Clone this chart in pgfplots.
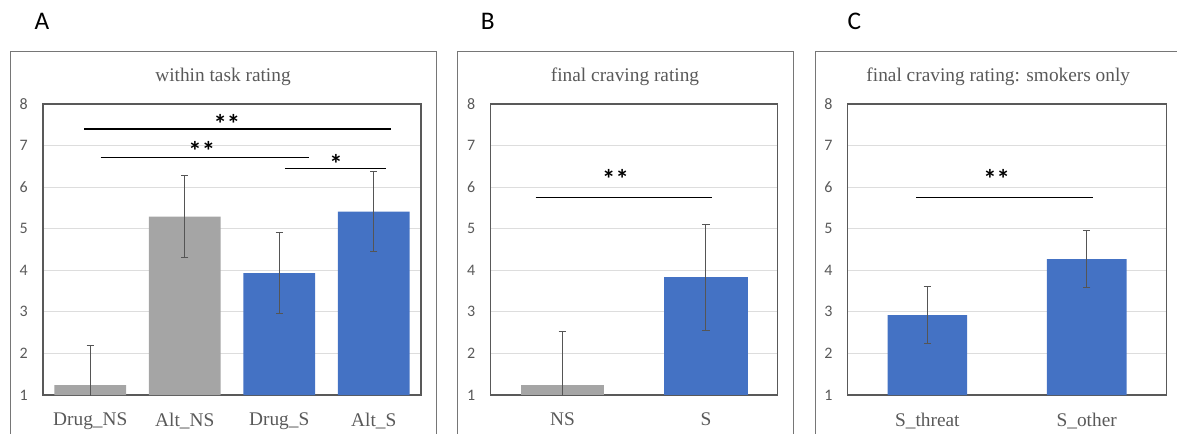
\documentclass[border=0pt]{standalone}
\usepackage{fontspec}
\setmainfont{Liberation Serif}
\newfontfamily\carlito{Carlito}
\usepackage{pgfplots}
\pgfplotsset{compat=1.18}

\definecolor{barGray}{HTML}{A5A5A5}
\definecolor{barBlue}{HTML}{4472C4}
\definecolor{txtGray}{HTML}{595959}
\definecolor{gridGray}{HTML}{DDDDDD}
\definecolor{frameGray}{HTML}{767676}
\definecolor{errGray}{HTML}{555555}

\pgfplotsset{
  panel/.style={
    scale only axis, height=218.25pt, anchor=south west,
    ymin=1, ymax=8, ytick={1,...,8},
    ymajorgrids, grid style={gridGray, line width=0.75pt},
    major tick length=0pt,
    axis line style={txtGray, line width=0.9pt},
    tick label style={txtGray},
    /pgf/number format/assume math mode=true,
    yticklabel style={font=\carlito\fontsize{12pt}{14pt}\selectfont, xshift=-8pt},
    xticklabel style={font=\fontsize{14.5pt}{17pt}\selectfont, yshift=-10pt},
  },
  barplot/.style={
    ybar, bar shift=0pt, draw=none, fill=#1,
    error bars/y dir=both, error bars/y explicit,
    error bars/error bar style={draw=errGray, line width=0.75pt},
    error bars/error mark options={draw=errGray, rotate=90, mark size=2.8pt, line width=0.75pt},
  },
  sig/.style={black, line width=0.9pt, forget plot},
}
\newcommand{\stars}[1]{{\carlito\bfseries\fontsize{20pt}{22pt}\selectfont #1}}

\begin{document}
\begin{tikzpicture}
\path[use as bounding box] (0,0) rectangle (882.75pt,-325.5pt);

% panel frames, cut at the page edge
\begin{scope}
  \clip (0,0) rectangle (882.75pt,-325.5pt);
  \draw[frameGray, line width=0.8pt] (8.0pt,-332pt) -- (8.0pt,-38.8pt) -- (327.5pt,-38.8pt) -- (327.5pt,-332pt);
  \draw[frameGray, line width=0.8pt] (343.0pt,-332pt) -- (343.0pt,-38.8pt) -- (595.3pt,-38.8pt) -- (595.3pt,-332pt);
  \draw[frameGray, line width=0.8pt] (611.5pt,-332pt) -- (611.5pt,-38.8pt) -- (890pt,-38.8pt);
\end{scope}

% panel letters
\node[anchor=base, font=\carlito\fontsize{19pt}{21pt}\selectfont] at (31.5pt,-22pt) {A};
\node[anchor=base, font=\carlito\fontsize{19pt}{21pt}\selectfont] at (365.8pt,-22pt) {B};
\node[anchor=base, font=\carlito\fontsize{19pt}{21pt}\selectfont] at (640.7pt,-22pt) {C};

% panel titles
\node[anchor=base, txtGray, font=\fontsize{14.5pt}{17pt}\selectfont] at (167.25pt,-61.5pt) {within task rating};
\node[anchor=base, txtGray, font=\fontsize{14.5pt}{17pt}\selectfont] at (468.75pt,-61.5pt) {final craving rating};
\node[anchor=base, txtGray, font=\fontsize{14.5pt}{17pt}\selectfont] at (748.7pt,-61.5pt) {final craving rating: smokers only};

% A: within task rating
\begin{axis}[panel, at={(32.25pt,-296.25pt)}, width=283.5pt,
  xmin=-0.5, xmax=3.5, xtick={0,1,2,3},
  xticklabels={Drug\_NS, Alt\_NS, Drug\_S, Alt\_S}]
  \addplot[barplot=barGray, bar width=0.76] coordinates {(0,1.24) +- (0,0.96) (1,5.29) +- (0,0.98)};
  \addplot[barplot=barBlue, bar width=0.76] coordinates {(2,3.93) +- (0,0.97) (3,5.41) +- (0,0.97)};
  \addplot[sig] coordinates {(-0.066,7.40) (3.18,7.40)};
  \addplot[sig] coordinates {(0.11,6.71) (2.32,6.71)};
  \addplot[sig] coordinates {(2.06,6.44) (3.13,6.44)};
  \node[anchor=base] at (axis cs:1.447,7.30) {\stars{**}};
  \node[anchor=base] at (axis cs:1.18,6.65) {\stars{**}};
  \node[anchor=base] at (axis cs:2.60,6.32) {\stars{*}};
\end{axis}

% B: final craving rating
\begin{axis}[panel, at={(368.0pt,-296.25pt)}, width=215.25pt,
  xmin=-0.5, xmax=1.5, xtick={0,1},
  xticklabels={NS, S}]
  \addplot[barplot=barGray, bar width=0.58] coordinates {(0,1.24) +- (0,1.28)};
  \addplot[barplot=barBlue, bar width=0.58] coordinates {(1,3.83) +- (0,1.28)};
  \addplot[sig] coordinates {(-0.186,5.75) (1.04,5.75)};
  \node[anchor=base] at (axis cs:0.37,5.96) {\stars{**}};
\end{axis}

% C: final craving rating, smokers only
\begin{axis}[panel, at={(635.8pt,-296.25pt)}, width=238.95pt,
  xmin=-0.5, xmax=1.5, xtick={0,1},
  xticklabels={S\_threat, S\_other}]
  \addplot[barplot=barBlue, bar width=0.5] coordinates {(0,2.92) +- (0,0.68) (1,4.27) +- (0,0.69)};
  \addplot[sig] coordinates {(-0.069,5.75) (1.04,5.75)};
  \node[anchor=base] at (axis cs:0.435,5.96) {\stars{**}};
\end{axis}
\end{tikzpicture}
\end{document}
